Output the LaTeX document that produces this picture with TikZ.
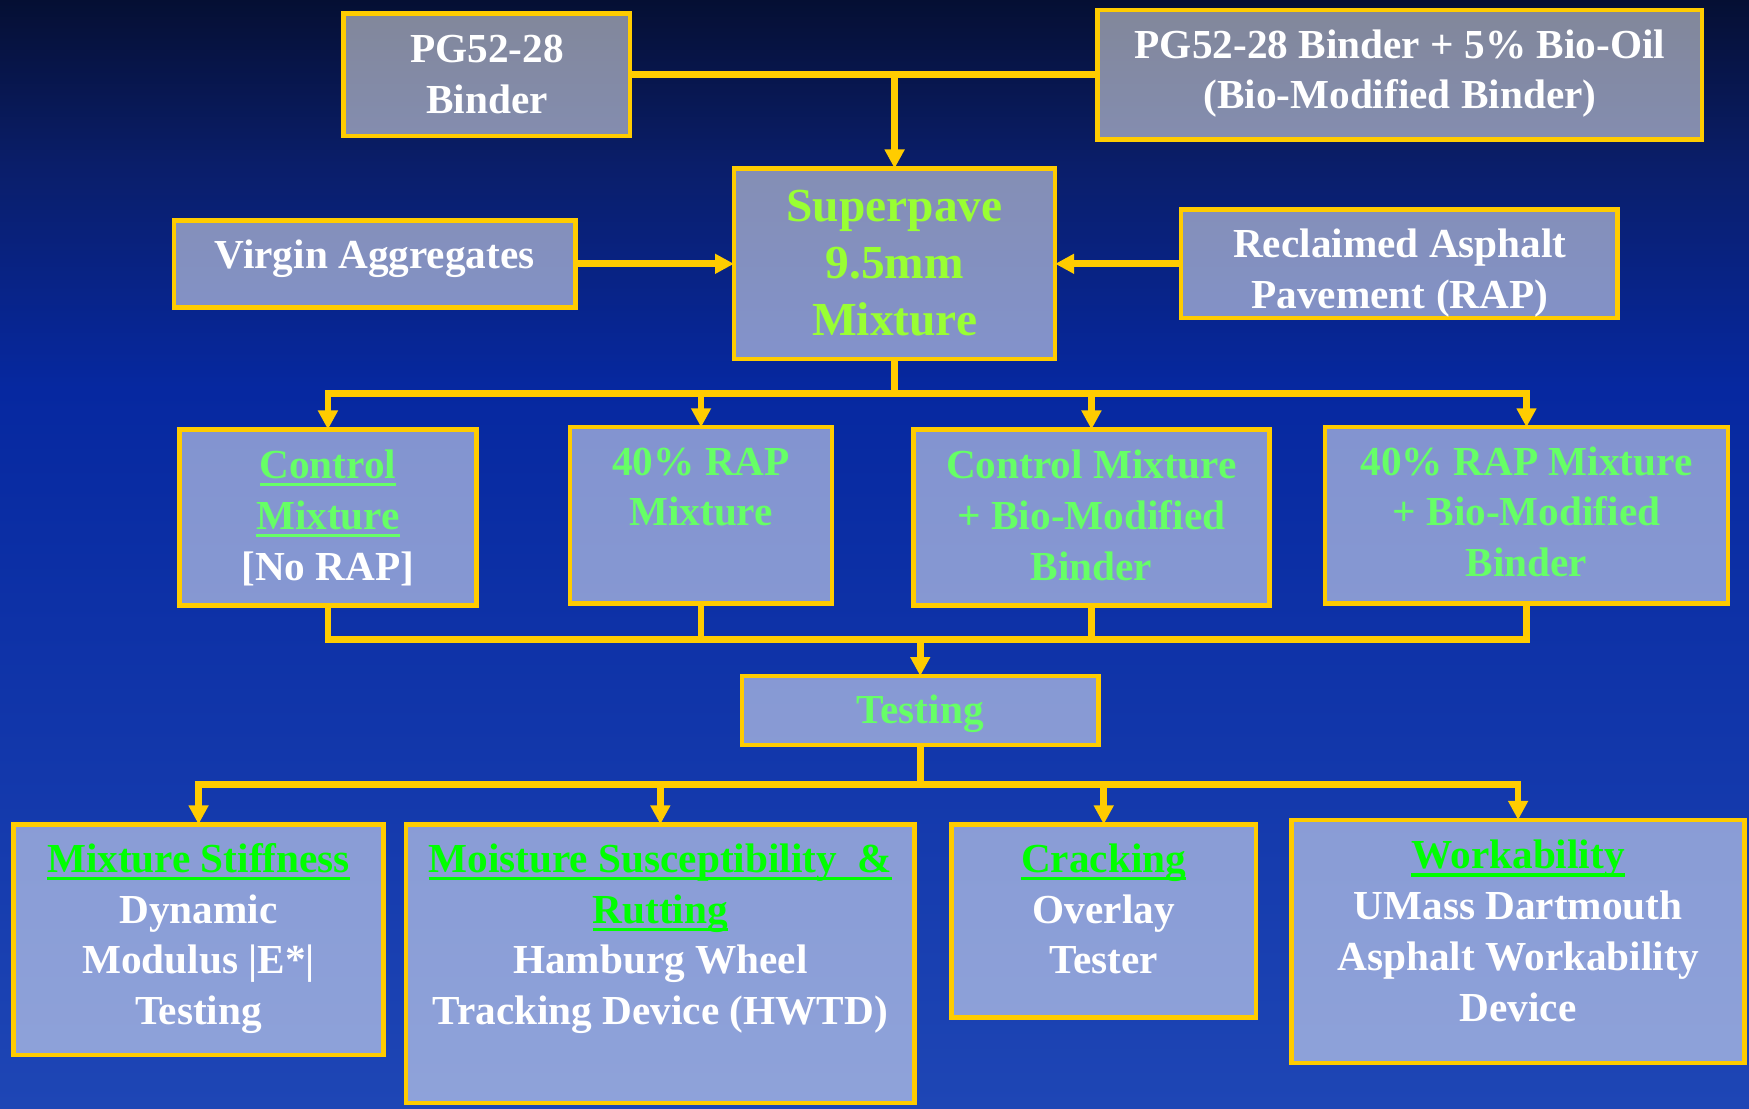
\documentclass[tikz,border=0pt]{standalone}
\usepackage{fontspec}
\setmainfont{Liberation Serif}
\usetikzlibrary{arrows.meta}
\definecolor{gold}{HTML}{FFCC00}
\definecolor{lime}{HTML}{99FF33}
\definecolor{lgreen}{HTML}{66FF66}
\definecolor{pgreen}{HTML}{00FF00}
\definecolor{bgtop}{HTML}{050F33}
\definecolor{bgA}{HTML}{0A1E6A}
\definecolor{bgB}{HTML}{0628A0}
\definecolor{bgbot}{HTML}{1E46B5}
\pgfdeclareverticalshading{bgshade}{100bp}{color(0bp)=(bgbot); color(25bp)=(bgbot); color(57.5bp)=(bgB); color(67.5bp)=(bgA); color(75bp)=(bgtop); color(100bp)=(bgtop)}
\newcommand\ulx[1]{\leavevmode\setbox0=\hbox{#1}\rlap{\rule[-7pt]{\wd0}{3pt}}\box0}
\tikzset{
  box/.style={rectangle, draw=gold, line width=4pt, fill=white, fill opacity=0.5, draw opacity=1, inner sep=0pt, outer sep=0pt},
  txt/.style={align=center, font=\bfseries\fontsize{37}{45.5}\selectfont, text=white, anchor=base, inner sep=0pt},
  big/.style={font=\bfseries\fontsize{42.5}{51}\selectfont},
  link/.style={draw=gold, line width=6pt},
  arr/.style={draw=gold, line width=6pt, -{Triangle[width=17pt,length=17pt]}},
}
\begin{document}
\begin{tikzpicture}[x=1pt,y=-1pt]
\useasboundingbox (0,0) rectangle (1568,994);
\shade[shading=bgshade] (0,0) rectangle (1568,994);
% boxes
\node[box, minimum width=257, minimum height=110] (b1) at (436.5,67) {};
\node[box, minimum width=542, minimum height=116] (b2) at (1255,67) {};
\node[box, minimum width=288, minimum height=171] (sp) at (802,236.5) {};
\node[box, minimum width=360, minimum height=78] (va) at (336,236.5) {};
\node[box, minimum width=391, minimum height=97] (rap) at (1254.5,236.5) {};
\node[box, minimum width=266, minimum height=158] (m1) at (294,464) {};
\node[box, minimum width=235, minimum height=158] (m2) at (628.5,462) {};
\node[box, minimum width=319, minimum height=158] (m3) at (978.5,464) {};
\node[box, minimum width=361, minimum height=158] (m4) at (1368.5,462) {};
\node[box, minimum width=320, minimum height=62] (test) at (825,637) {};
\node[box, minimum width=332, minimum height=207] (r1) at (178,842.5) {};
\node[box, minimum width=456, minimum height=250] (r2) at (592,864) {};
\node[box, minimum width=273, minimum height=173] (r3) at (989.5,825.5) {};
\node[box, minimum width=406, minimum height=218] (r4) at (1361,844) {};
% texts (anchor = baseline of last line)
\node[txt] (t1) at (436.5,101.5) {PG52-28\\Binder};
\node[txt] (t2) at (1255,97.5) {PG52-28 Binder + 5\% Bio-Oil\\(Bio-Modified Binder)};
\node[txt,big,text=lime] (t3) at (802,301) {Superpave\\9.5mm\\Mixture};
\node[txt] (t4) at (336,241) {Virgin Aggregates};
\node[txt] (t5) at (1255,276.5) {Reclaimed Asphalt\\Pavement (RAP)};
\node[txt,text=lgreen] (t6) at (294,520) {\ulx{Control}\\\ulx{Mixture}\\\textcolor{white}{[No RAP]}};
\node[txt,text=lgreen] (t7) at (628.5,471.5) {40\% RAP\\Mixture};
\node[txt,text=lgreen] (t8) at (978.5,520) {Control Mixture\\+ Bio-Modified\\Binder};
\node[txt,text=lgreen] (t9) at (1368.5,517) {40\% RAP Mixture\\+ Bio-Modified\\Binder};
\node[txt,text=lgreen] (t10) at (825,649) {Testing};
\node[txt] (t11) at (178,918.5) {\textcolor{pgreen}{\ulx{Mixture Stiffness}}\\Dynamic\\Modulus |E*|\\Testing};
\node[txt] (t12) at (592,918.5) {\textcolor{pgreen}{\ulx{Moisture Susceptibility \ \&}}\\\textcolor{pgreen}{\ulx{Rutting}}\\Hamburg Wheel\\Tracking Device (HWTD)};
\node[txt] (t13) at (989.5,873) {\textcolor{pgreen}{\ulx{Cracking}}\\Overlay\\Tester};
\node[txt] (t14) at (1361,915.5) {\textcolor{pgreen}{\ulx{Workability}}\\UMass Dartmouth\\Asphalt Workability\\Device};
% junctions
\coordinate (j1) at (802,353);
\coordinate (j2) at (825,573);
\coordinate (j3) at (825,703);
% connectors
\draw[link] (b1.east) -- (b2.west);
\draw[arr] (b1.east -| sp.north) -- (sp.north);
\draw[arr] (va.east) -- (sp.west);
\draw[arr] (rap.west) -- (sp.east);
\draw[link] (sp.south) -- (j1);
\draw[link, line cap=rect] (j1 -| m1.north) -- (j1 -| m4.north);
\foreach \m in {m1,m2,m3,m4} \draw[arr] (j1 -| \m.north) -- (\m.north);
\draw[link, line join=miter] (m1.south) -- (m1.south |- j2) -- (m4.south |- j2) -- (m4.south);
\draw[link] (m2.south) -- (m2.south |- j2);
\draw[link] (m3.south) -- (m3.south |- j2);
\draw[arr] (j2) -- (test.north);
\draw[link] (test.south) -- (j3);
\draw[link, line cap=rect] (j3 -| r1.north) -- (j3 -| r4.north);
\foreach \r in {r1,r2,r3,r4} \draw[arr] (j3 -| \r.north) -- (\r.north);
\end{tikzpicture}
\end{document}
